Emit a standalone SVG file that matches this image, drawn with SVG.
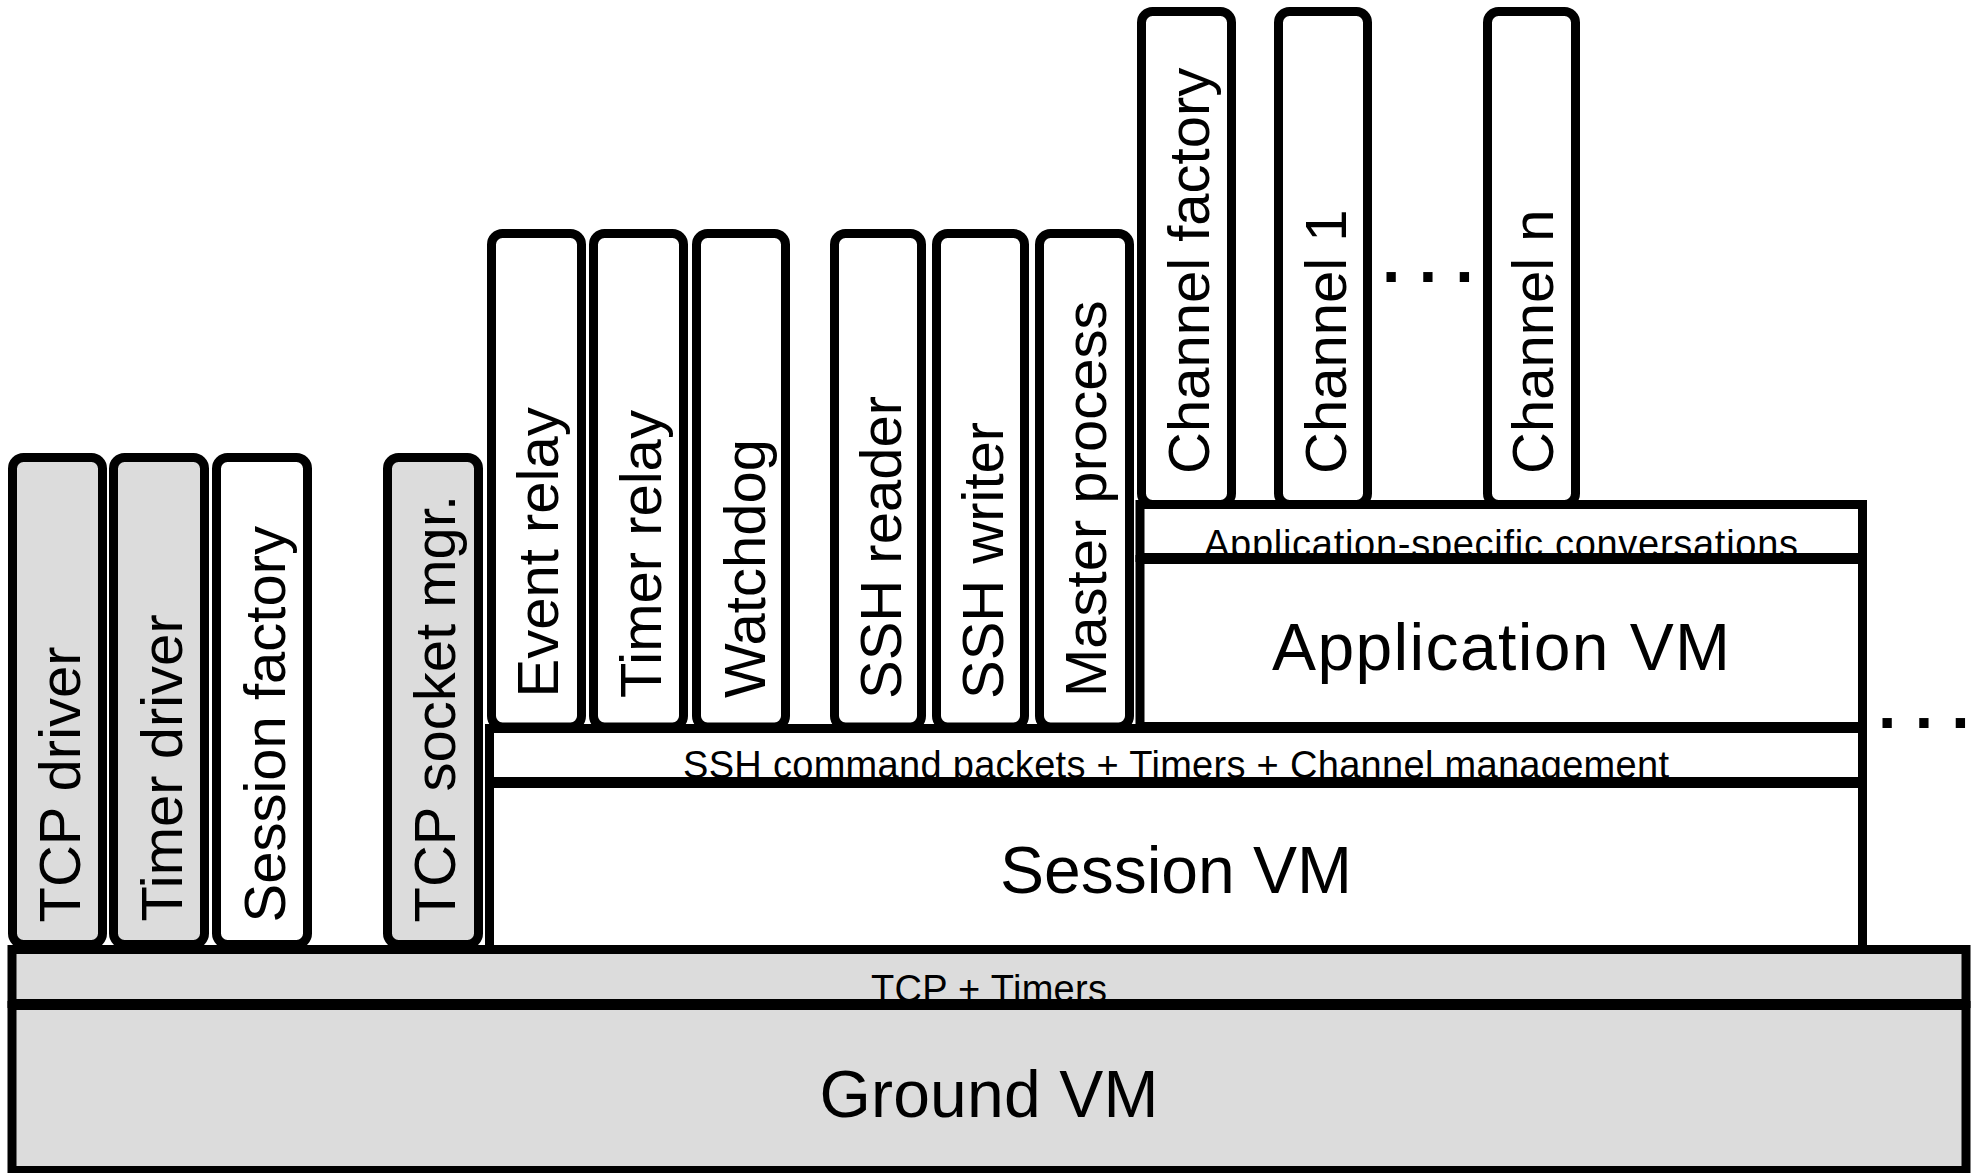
<svg xmlns="http://www.w3.org/2000/svg" width="1978" height="1173" viewBox="0 0 1978 1173">
<style>
.box{stroke:#000;stroke-width:9}
.lay{stroke:#000;stroke-width:9}
.g{fill:#dcdcdc}
.w{fill:#fff}
.vl{font-family:"Liberation Sans",Arial,sans-serif;font-size:58px;fill:#000}
.big{font-family:"Liberation Sans",Arial,sans-serif;font-size:66px;fill:#000;text-anchor:middle}
.sm{font-family:"Liberation Sans",Arial,sans-serif;font-size:38px;fill:#000;text-anchor:middle}
.dots{font-family:"Liberation Sans",Arial,sans-serif;font-size:66px;font-weight:bold;fill:#000}
</style>
<rect x="0" y="0" width="1978" height="1173" fill="#fff"/>

<g id="tcp-driver"><rect class="box g" x="12.5" y="457.5" width="90" height="487" rx="11"/><text class="vl" transform="translate(80,922.5) rotate(-90)">TCP driver</text></g>
<g id="timer-driver"><rect class="box g" x="113.5" y="457.5" width="91" height="487" rx="11"/><text class="vl" transform="translate(182,921.5) rotate(-90)">Timer driver</text></g>
<g id="session-factory"><rect class="box w" x="216.5" y="457.5" width="91" height="487" rx="11"/><text class="vl" transform="translate(285,922.5) rotate(-90)">Session factory</text></g>
<g id="tcp-socket-mgr"><rect class="box g" x="387.5" y="457.5" width="91" height="487" rx="11"/><text class="vl" transform="translate(455,922.5) rotate(-90)">TCP socket mgr.</text></g>

<g id="event-relay"><rect class="box w" x="491.5" y="233.5" width="90" height="493.5" rx="11"/><text class="vl" transform="translate(558,697.5) rotate(-90)">Event relay</text></g>
<g id="timer-relay"><rect class="box w" x="593.5" y="233.5" width="90" height="493.5" rx="11"/><text class="vl" transform="translate(661,698) rotate(-90)">Timer relay</text></g>
<g id="watchdog"><rect class="box w" x="696.5" y="233.5" width="89" height="493.5" rx="11"/><text class="vl" transform="translate(765,698) rotate(-90)">Watchdog</text></g>
<g id="ssh-reader"><rect class="box w" x="834.5" y="233.5" width="87" height="493.5" rx="11"/><text class="vl" transform="translate(901,699) rotate(-90)">SSH reader</text></g>
<g id="ssh-writer"><rect class="box w" x="936.5" y="233.5" width="88" height="493.5" rx="11"/><text class="vl" transform="translate(1003,699) rotate(-90)">SSH writer</text></g>
<g id="master-process"><rect class="box w" x="1039.5" y="233.5" width="90" height="493.5" rx="11"/><text class="vl" transform="translate(1106,697) rotate(-90)">Master process</text></g>

<g id="channel-factory"><rect class="box w" x="1141.5" y="11.5" width="90" height="493" rx="11"/><text class="vl" transform="translate(1209,474) rotate(-90)">Channel factory</text></g>
<g id="channel-1"><rect class="box w" x="1278.5" y="11.5" width="89" height="493" rx="11"/><text class="vl" transform="translate(1346,474) rotate(-90)">Channel 1</text></g>
<g id="channel-n"><rect class="box w" x="1487.5" y="11.5" width="88" height="493" rx="11"/><text class="vl" transform="translate(1553,474) rotate(-90)">Channel n</text></g>

<g id="app-conversations"><rect class="lay w" x="1140" y="504.5" width="722.5" height="53"/><text class="sm" x="1501" y="557" font-size="39" textLength="594">Application-specific conversations</text></g>
<g id="application-vm"><rect class="lay w" x="1140" y="559.5" width="722.5" height="167"/><text class="big" x="1501" y="670" textLength="458">Application VM</text></g>
<g id="ssh-command-layer"><rect class="lay w" x="489.5" y="728.5" width="1373" height="53"/><text class="sm" x="1176" y="778" textLength="986">SSH command packets + Timers + Channel management</text></g>
<g id="session-vm"><rect class="lay w" x="489.5" y="783.5" width="1373" height="166"/><text class="big" x="1176" y="893">Session VM</text></g>
<g id="tcp-timers-layer"><rect class="lay g" x="12" y="949.5" width="1954" height="54"/><text class="sm" x="989" y="1002" textLength="236">TCP + Timers</text></g>
<g id="ground-vm"><rect class="lay g" x="12" y="1005.5" width="1954" height="165"/><text class="big" x="989" y="1117" textLength="339">Ground VM</text></g>

<g id="ellipses">
<text class="dots" x="1382" y="282">. . .</text>
<text class="dots" x="1878" y="728">. . .</text>
</g>
<g id="connectors"></g>
</svg>
